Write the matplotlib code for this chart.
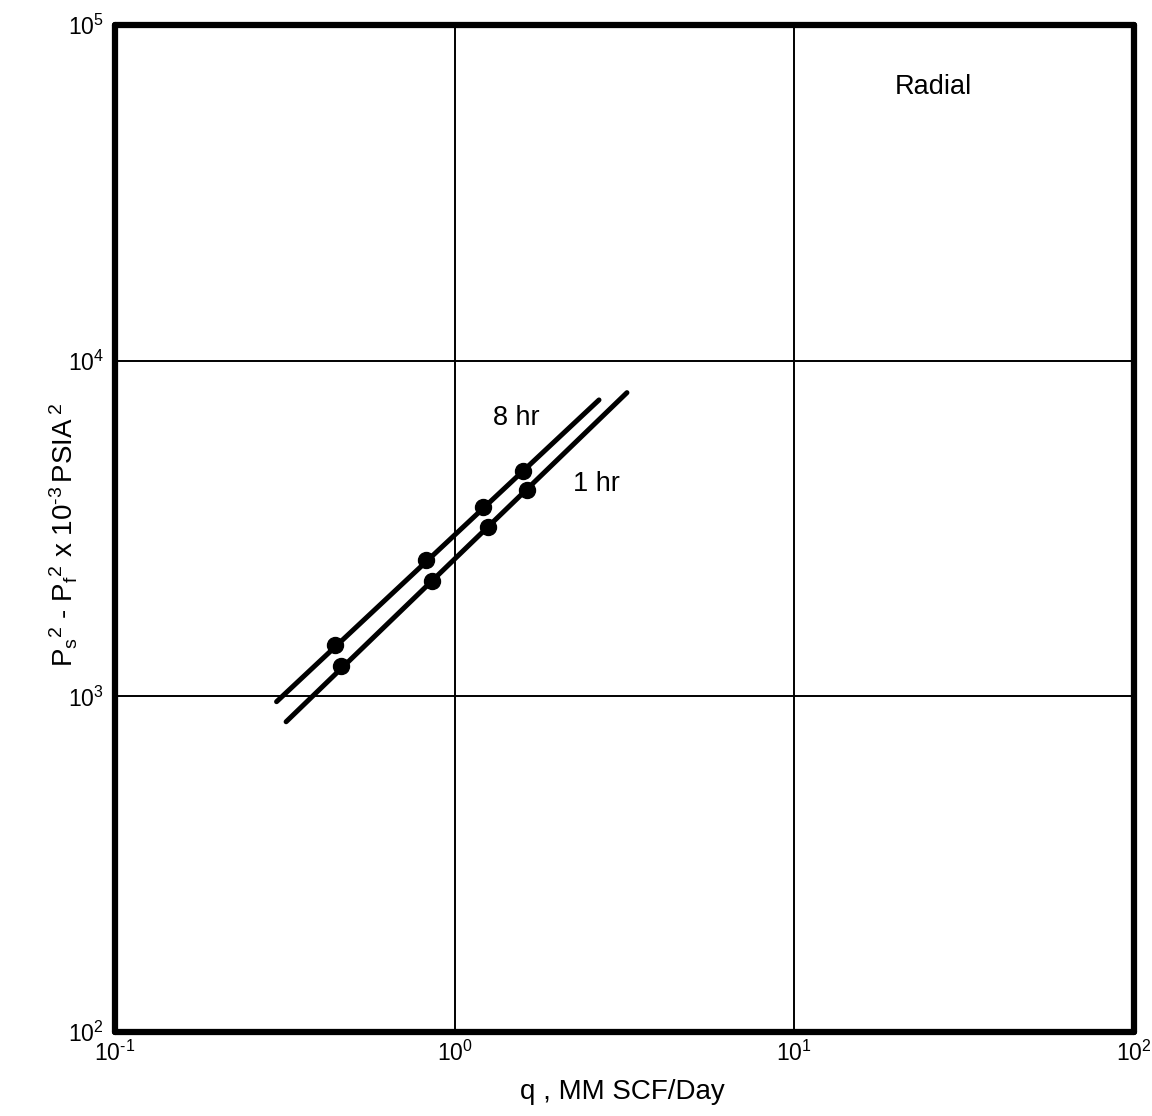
#!/usr/bin/python3

import matplotlib
matplotlib.use('Agg')
import matplotlib.pyplot as plt
from matplotlib import rcParams

rcParams['font.family'] = 'Liberation Sans'
rcParams['mathtext.fontset'] = 'custom'
rcParams['mathtext.rm'] = 'Liberation Sans'
rcParams['mathtext.it'] = 'Liberation Sans'
rcParams['mathtext.bf'] = 'Liberation Sans:bold'

##### DATA ######
# back-pressure test points, q in MM SCF/Day, dP^2 in 10^-3 psia^2
q_8hr = [0.444, 0.822, 1.211, 1.589]
dp_8hr = [1422, 2549, 3673, 4693]
q_1hr = [0.463, 0.857, 1.251, 1.629]
dp_1hr = [1232, 2212, 3203, 4120]

# drawn deliverability lines (end points)
line_8hr_q = [0.299, 2.66]
line_8hr_dp = [964, 7638]
line_1hr_q = [0.319, 3.215]
line_1hr_dp = [840, 8030]

x_ticks = [0.1, 1, 10, 100]
x_labels = [r'10$^{\mathregular{\text{-}1}}$', r'10$^{\mathregular{0}}$',
            r'10$^{\mathregular{1}}$', r'10$^{\mathregular{2}}$']
y_ticks = [1e2, 1e3, 1e4, 1e5]
y_labels = [r'10$^{\mathregular{2}}$', r'10$^{\mathregular{3}}$',
            r'10$^{\mathregular{4}}$', r'10$^{\mathregular{5}}$']


###### PLOT ######
def plot():
	W, H = 1152, 1116
	fig = plt.figure(figsize=(W / 100, H / 100), dpi=100)
	ax = fig.add_axes([115 / W, 1 - 1032 / H, (1134 - 115) / W, (1032 - 25) / H])

	ax.set_xscale('log')
	ax.set_yscale('log')
	ax.set_xlim(0.1, 100)
	ax.set_ylim(100, 1e5)

	ax.grid(True, which='major', color='black', lw=1.4)
	ax.set_axisbelow(True)

	for q, dp in ((line_8hr_q, line_8hr_dp), (line_1hr_q, line_1hr_dp)):
		ax.plot(q, dp, color='black', lw=3.6, solid_capstyle='round')
	ax.plot(q_8hr, dp_8hr, 'o', color='black', ms=11.5)
	ax.plot(q_1hr, dp_1hr, 'o', color='black', ms=11.5)

	ax.text(1.515, 6750, '8 hr', fontsize=19.5, ha='center', va='center')
	ax.text(2.606, 4292, '1 hr', fontsize=19.5, ha='center', va='center')
	ax.text(25.6, 65380, 'Radial', fontsize=19.5, ha='center', va='center')

	ax.set_xticks(x_ticks, labels=x_labels)
	ax.set_yticks(y_ticks, labels=y_labels)
	ax.minorticks_off()
	ax.tick_params(length=0, labelsize=16.5)
	ax.tick_params(axis='x', pad=6)
	ax.tick_params(axis='y', pad=8)

	for s in ax.spines.values():
		s.set_linewidth(4.5)
		s.set_capstyle('round')
		s.set_joinstyle('round')

	fig.text(622 / W, 1 - 1092 / H, 'q , MM SCF/Day', fontsize=20,
	         ha='center', va='center')
	fig.text(64 / W, 1 - 535 / H,
	         r'$\mathregular{P_s{}^2\ \text{-}\ P_f{}^2\ x\ 10^{\text{-}3}\,PSIA\,^2}$',
	         fontsize=20, rotation=90, ha='center', va='center')

	fig.savefig('out.png', dpi=100)
	plt.close(fig)

plot()
